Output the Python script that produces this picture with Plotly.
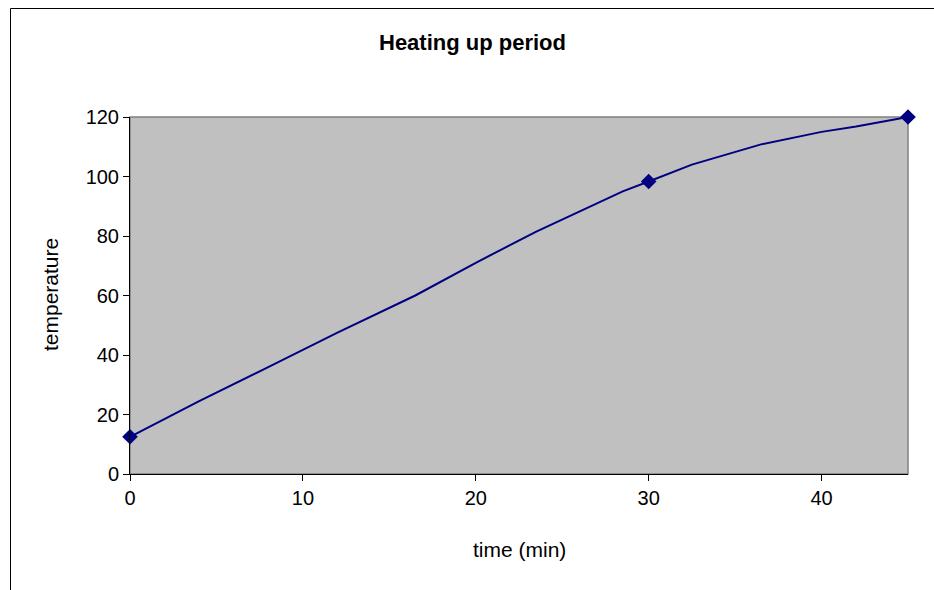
import plotly.graph_objects as go

# line data (minutes, temperature)
time_min = [0, 4, 7.5, 12, 16.5, 20, 23.5, 28.5, 30, 32.5, 36.5, 40, 42, 45]
temperature = [12.5, 24.5, 34.5, 47.5, 60, 71, 81.5, 95, 98.3, 104, 110.8, 115, 116.8, 120]
# marked measurement points
marker_time = [0, 30, 45]
marker_temp = [12.5, 98.3, 120]

x_ticks = [0, 10, 20, 30, 40]
y_ticks = [0, 20, 40, 60, 80, 100, 120]

W, H = 934, 590
L, R, T, B = 130, 26, 117, 116
pw, ph = W - L - R, H - T - B

def px_to_paper_x(px):
    return (px - L) / pw

def px_to_paper_y(py):
    return (H - B - py) / ph

fig = go.Figure()
fig.add_trace(go.Scatter(x=time_min, y=temperature, mode="lines",
                         line=dict(color="#000080", width=2), hoverinfo="skip",
                         showlegend=False, cliponaxis=False))
fig.add_trace(go.Scatter(x=marker_time, y=marker_temp, mode="markers",
                         marker=dict(symbol="diamond", size=12, color="#000080"),
                         showlegend=False, cliponaxis=False))

font = "Liberation Sans, Arial, sans-serif"
fig.update_layout(
    width=W, height=H,
    margin=dict(l=L, r=R, t=T, b=B),
    paper_bgcolor="white",
    plot_bgcolor="#C0C0C0",
    font=dict(family=font, size=20, color="black"),
    showlegend=False,
    xaxis=dict(range=[0, 45], tickvals=x_ticks, ticks="outside", ticklen=6,
               tickcolor="black", showline=True, linecolor="black", linewidth=1,
               showgrid=False, zeroline=False, tickfont=dict(size=20)),
    yaxis=dict(range=[0, 120], tickvals=y_ticks, ticks="outside", ticklen=6,
               tickcolor="black", showline=True, linecolor="black", linewidth=1,
               showgrid=False, zeroline=False, tickfont=dict(size=20)),
    shapes=[
        dict(type="rect", xref="paper", yref="paper", x0=0, y0=0, x1=1, y1=1,
             line=dict(color="#808080", width=1.5), layer="below"),
        dict(type="line", xref="paper", yref="paper",
             x0=px_to_paper_x(10.5), y0=px_to_paper_y(8.5),
             x1=px_to_paper_x(960), y1=px_to_paper_y(8.5),
             line=dict(color="black", width=1)),
        dict(type="line", xref="paper", yref="paper",
             x0=px_to_paper_x(10.5), y0=px_to_paper_y(8.5),
             x1=px_to_paper_x(10.5), y1=px_to_paper_y(620),
             line=dict(color="black", width=1)),
    ],
    annotations=[
        dict(text="<b>Heating up period</b>", xref="paper", yref="paper",
             x=px_to_paper_x(472), y=px_to_paper_y(42), showarrow=False,
             xanchor="center", yanchor="middle", font=dict(size=22)),
        dict(text="time (min)", xref="paper", yref="paper",
             x=px_to_paper_x(519), y=px_to_paper_y(549), showarrow=False,
             xanchor="center", yanchor="middle", font=dict(size=21)),
        dict(text="temperature", xref="paper", yref="paper",
             x=px_to_paper_x(50), y=px_to_paper_y(295), showarrow=False,
             textangle=-90, xanchor="center", yanchor="middle", font=dict(size=21)),
    ],
)

fig.write_html("out.html")
